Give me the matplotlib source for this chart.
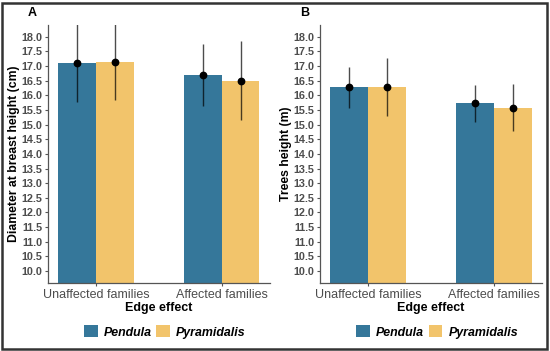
import matplotlib
matplotlib.use("Agg")
import matplotlib.pyplot as plt
from matplotlib.patches import Patch, Rectangle
import numpy as np

plt.rcParams['font.family'] = ['Liberation Sans', 'DejaVu Sans']

categories = ["Unaffected families", "Affected families"]
series = ["Pendula", "Pyramidalis"]
colors = ["#35779A", "#F2C46B"]

# Panel A: diameter at breast height (cm)
dbh_pendula = [17.10, 16.71]
dbh_pyramidalis = [17.15, 16.50]
dbh_err_pendula = [1.33, 1.06]
dbh_err_pyramidalis = [1.32, 1.34]

# Panel B: tree height (m)
h_pendula = [16.28, 15.73]
h_pyramidalis = [16.28, 15.58]
h_err_pendula = [0.70, 0.63]
h_err_pyramidalis = [1.00, 0.79]

yticks = np.arange(10.0, 18.01, 0.5)

fig = plt.figure(figsize=(5.5, 3.51), dpi=100)

panels = [
    dict(rect=[0.0873, 0.1946, 0.4027, 0.734], label="A",
         ylabel="Diameter at breast height (cm)",
         vals=[dbh_pendula, dbh_pyramidalis], errs=[dbh_err_pendula, dbh_err_pyramidalis],
         legx=0.30),
    dict(rect=[0.5818, 0.1946, 0.403, 0.734], label="B",
         ylabel="Trees height (m)",
         vals=[h_pendula, h_pyramidalis], errs=[h_err_pendula, h_err_pyramidalis],
         legx=0.795),
]

bw = 0.30
x = np.arange(1, len(categories) + 1)
for p in panels:
    ax = fig.add_axes(p["rect"])
    for i, (v, e) in enumerate(zip(p["vals"], p["errs"])):
        xs = x + (i - 0.5) * bw
        ax.bar(xs, v, width=bw, color=colors[i], bottom=0, zorder=2)
        ax.errorbar(xs, v, yerr=e, fmt='o', color='black', ecolor=(0, 0, 0, 0.7),
                    elinewidth=1.0, markersize=4.6, capsize=0, zorder=3)
    ax.set_xlim(0.62, 2.38)
    ax.set_ylim(9.6, 18.4)
    ax.set_yticks(yticks)
    ax.set_yticklabels([f"{t:.1f}" for t in yticks], fontsize=7.8,
                       fontweight='bold', color='#4D4D4D')
    ax.set_xticks(x)
    ax.set_xticklabels(categories, fontsize=9, color='#4D4D4D')
    ax.tick_params(axis='y', length=2.5, width=0.8, color='#555555', pad=1.5)
    ax.tick_params(axis='x', length=2.5, width=0.8, color='#555555', pad=2)
    for s in ['top', 'right']:
        ax.spines[s].set_visible(False)
    for s in ['left', 'bottom']:
        ax.spines[s].set_color('#555555')
        ax.spines[s].set_linewidth(0.9)
    ax.set_xlabel("Edge effect", fontsize=9, fontweight='bold', labelpad=0.5)
    ax.set_ylabel(p["ylabel"], fontsize=8.8, fontweight='bold', labelpad=1)
    ax.text(-0.07, 1.025, p["label"], transform=ax.transAxes, fontsize=9,
            fontweight='bold', ha='center', va='bottom')
    handles = [Patch(facecolor=c, edgecolor='none') for c in colors]
    fig.legend(handles, series, loc='center', bbox_to_anchor=(p["legx"], 0.054),
               ncol=2, frameon=False, handlelength=1.1, handleheight=1.1,
               columnspacing=0.35, handletextpad=0.5,
               prop=dict(family=['Liberation Sans'], style='italic', weight='bold', size=8.9))

fig.add_artist(Rectangle((0.004, 0.006), 0.991, 0.985, transform=fig.transFigure,
                         fill=False, edgecolor='#333333', linewidth=1.8))

fig.savefig("out.png", dpi=100)
